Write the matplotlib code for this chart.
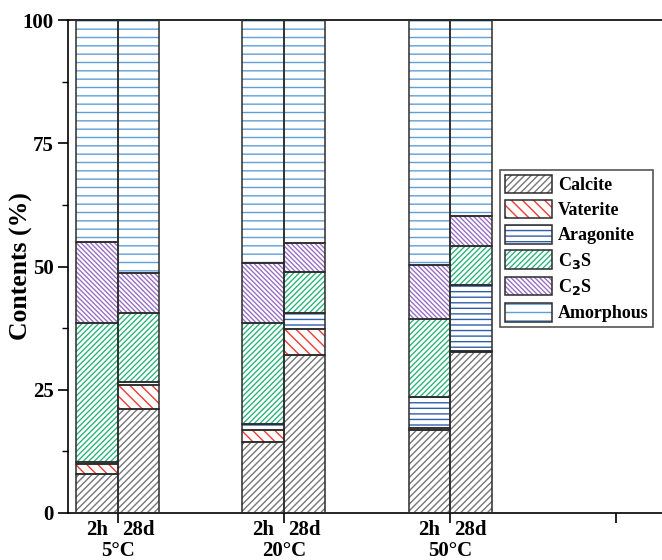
import matplotlib
matplotlib.use("Agg")
import matplotlib.pyplot as plt
from matplotlib.patches import Patch
from matplotlib.legend_handler import HandlerTuple
from matplotlib.ticker import MultipleLocator
import numpy as np

# data (contents in %)
temps = ["5°C", "20°C", "50°C"]
ages = ["2h", "28d"]
phases = ["Calcite", "Vaterite", "Aragonite", "C$_3$S", "C$_2$S", "Amorphous"]
# order of bars: 5°C-2h, 5°C-28d, 20°C-2h, 20°C-28d, 50°C-2h, 50°C-28d
calcite = [8.0, 21.1, 14.5, 32.0, 16.8, 32.6]
vaterite = [2.0, 4.9, 2.4, 5.3, 0.4, 0.3]
aragonite = [0.3, 0.5, 1.2, 3.2, 6.4, 13.3]
c3s = [28.2, 14.0, 20.4, 8.4, 15.7, 8.0]
c2s = [16.4, 8.2, 12.2, 5.8, 11.0, 6.0]
amorphous = [45.1, 51.3, 49.3, 45.3, 49.7, 39.8]

series = [calcite, vaterite, aragonite, c3s, c2s, amorphous]
hatch_colors = ["#777777", "#ee3b33", "#2f5fa9", "#2db57c", "#9a70c4", "#5f9fd8"]
hatches = ["/////", "\\\\\\", "---", "//////", "\\\\\\\\\\\\\\", "--"]
outline = "#2b2b2b"

plt.rcParams["font.family"] = ["Liberation Serif", "DejaVu Serif"]
plt.rcParams["font.weight"] = "bold"
plt.rcParams["hatch.linewidth"] = 1.0

fig = plt.figure(figsize=(6.62, 5.6), dpi=100)
ax = fig.add_axes([68/662, 47/560, 598/662, 493/560])

centers = np.arange(1, len(temps) + 1)
width = 0.25
xpos = []
for c in centers:
    xpos += [c - width/2, c + width/2]
xpos = np.array(xpos)

# hatch drawn in its own colour first, then the dark outline on top
bottom = np.zeros(len(xpos))
for vals, hc, h in zip(series, hatch_colors, hatches):
    vals = np.array(vals)
    ax.bar(xpos, vals, width, bottom=bottom, color="white", edgecolor=hc,
           linewidth=0, hatch=h, zorder=2)
    ax.bar(xpos, vals, width, bottom=bottom, fill=False, edgecolor=outline,
           linewidth=1.1, zorder=3)
    bottom += vals

ax.set_xlim(0.7, 4.3)
ax.set_ylim(0, 100)
ax.spines["right"].set_visible(False)
for s in ["top", "left", "bottom"]:
    ax.spines[s].set_linewidth(1.2)

ax.yaxis.set_major_locator(MultipleLocator(25))
ax.yaxis.set_minor_locator(MultipleLocator(12.5))
ax.tick_params(axis="y", which="major", length=7, width=1.2, labelsize=15, direction="out")
ax.tick_params(axis="y", which="minor", length=4, width=1.0, direction="out")

ax.set_xticks(list(centers) + [4], labels=temps + [""])
ax.set_xticks(xpos, labels=ages * len(temps), minor=True)
ax.tick_params(axis="x", which="major", length=7, width=1.2, labelsize=15, pad=13)
ax.tick_params(axis="x", which="minor", length=0, labelsize=15, pad=5)

ax.set_ylabel("Contents (%)", fontsize=18.5, fontweight="bold")
ax.yaxis.set_label_coords(-0.058, 0.5)

handles = [(Patch(facecolor="white", edgecolor=hc, hatch=h, linewidth=0),
            Patch(fill=False, edgecolor=outline, linewidth=1.1))
           for hc, h in zip(hatch_colors, hatches)]
leg = ax.legend(handles, phases, loc="upper left", bbox_to_anchor=(500/662, 1 - 170/560),
                bbox_transform=fig.transFigure, borderaxespad=0, fancybox=False,
                edgecolor="#555555", framealpha=1, prop={"size": 13, "weight": "bold"},
                handlelength=2.65, handleheight=1.2, labelspacing=0.33,
                handletextpad=0.3, borderpad=0.25,
                handler_map={tuple: HandlerTuple(ndivide=1, pad=0)})
leg.get_frame().set_linewidth(1.2)

fig.savefig("out.png", dpi=100)
